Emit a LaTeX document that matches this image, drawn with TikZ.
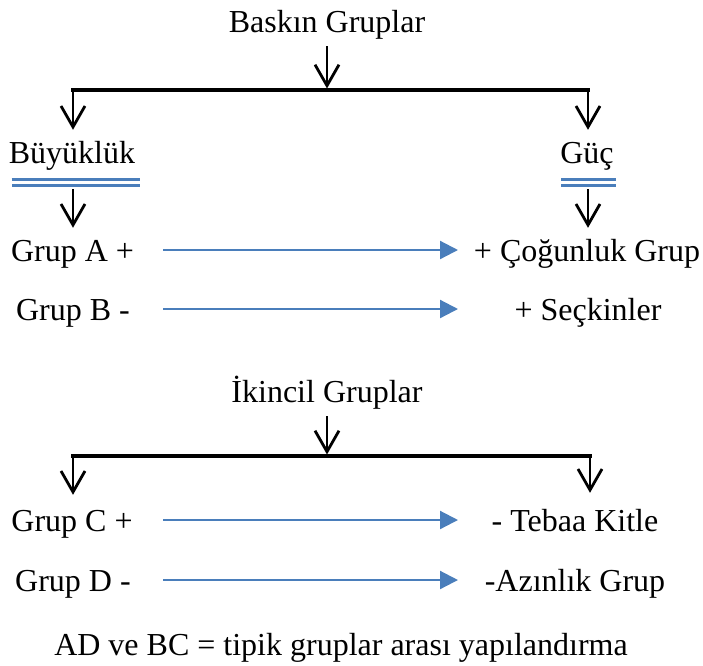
\documentclass[tikz,border=0pt]{standalone}
\usepackage{fontspec}
\setmainfont{Liberation Serif}
\usetikzlibrary{arrows.meta,calc}
\definecolor{linkblue}{RGB}{74,126,187}
\begin{document}
\begin{tikzpicture}[x=1pt,y=-1pt,
  lbl/.style={font=\fontsize{32}{38}\selectfont, inner sep=0pt, anchor=base,
              text height=22pt, text depth=0pt},
  bar/.style={line width=3.4pt, line cap=rect},
  darr/.style={line width=2.8pt, -{Straight Barb[length=21pt,width=24pt]}},
  uline/.style={draw=linkblue, line width=2.8pt, double=white, double distance=3.4pt},
  flow/.style={color=linkblue, line width=2.2pt, -{Triangle[length=18pt,width=18pt]}}
]
\useasboundingbox (0,0) rectangle (703,665);

% labels
\node[lbl] (top1) at (327,32)  {Baskın Gruplar};
\node[lbl] (buy)  at (72,163)  {Büyüklük};
\node[lbl] (guc)  at (587,163) {Güç};
\node[lbl] (ga)   at (72.5,261) {Grup A +};
\node[lbl] (gb)   at (73,320)  {Grup B -};
\node[lbl] (cog)  at (587,261) {+ Çoğunluk Grup};
\node[lbl] (sec)  at (588,320) {+ Seçkinler};
\node[lbl] (top2) at (327,402) {İkincil Gruplar};
\node[lbl] (gc)   at (72,531)  {Grup C +};
\node[lbl] (gd)   at (73,591)  {Grup D -};
\node[lbl] (teb)  at (575,531) {- Tebaa Kitle};
\node[lbl] (az)   at (575,591) {-Azınlık Grup};
\node[lbl] (note) at (341,655) {AD ve BC = tipik gruplar arası yapılandırma};

% branching rails
\coordinate (l1) at (73,90);
\coordinate (r1) at (588,90);
\coordinate (l2) at (73,456);
\coordinate (r2) at (590,456);
\coordinate (fs) at (163,0);
\coordinate (fe) at (458,0);

% first tree
\draw[darr, shorten <=14pt, shorten >=1.5pt] (top1.south) -- (top1.south |- l1);
\draw[bar] (l1) -- (r1);
\draw[darr, shorten >=11pt] (l1) -- (l1 |- buy.north);
\draw[darr, shorten >=11pt] (r1) -- (r1 |- guc.north);

% double underlines
\draw[uline] ($(buy.south west)+(3pt,-19pt)$) -- ($(buy.south east)+(5pt,-19pt)$);
\draw[uline] ($(guc.south west)+(1pt,-19pt)$) -- ($(guc.south east)+(2pt,-19pt)$);

\draw[darr, shorten <=26pt, shorten >=11pt] (l1 |- buy.south) -- (l1 |- ga.north);
\draw[darr, shorten <=26pt, shorten >=11pt] (r1 |- guc.south) -- (r1 |- cog.north);

% second tree
\draw[darr, shorten <=14pt, shorten >=1.5pt] (top2.south) -- (top2.south |- l2);
\draw[bar] (l2) -- (r2);
\draw[darr, shorten >=14pt] (l2) -- (l2 |- gc.north);
\draw[darr, shorten >=16pt] (r2) -- (r2 |- teb.north);

% horizontal links
\draw[flow] (ga.east -| fs) -- (cog.west -| fe);
\draw[flow] (gb.east -| fs) -- (sec.west -| fe);
\draw[flow] (gc.east -| fs) -- (teb.west -| fe);
\draw[flow] (gd.east -| fs) -- (az.west -| fe);
\end{tikzpicture}
\end{document}
